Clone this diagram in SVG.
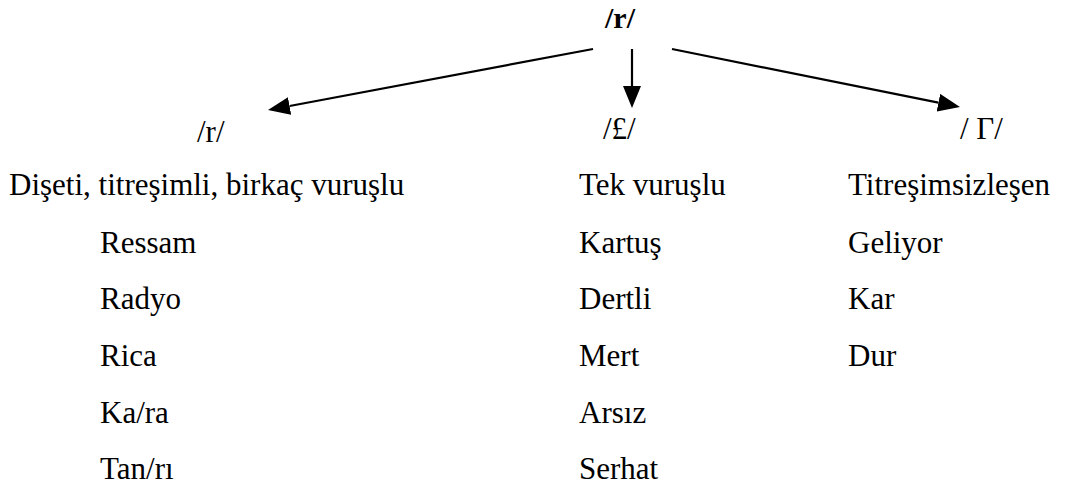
<svg xmlns="http://www.w3.org/2000/svg" width="1085" height="488" viewBox="0 0 1085 488">
<style>
text{font-family:"Liberation Serif","Times New Roman",serif;font-size:31px;fill:#000}
.b{font-weight:bold;font-size:30px}
.c{stroke:#000;stroke-width:2.2;fill:none}
</style>
<defs>
<marker id="ah" viewBox="0 -9 22 18" refX="0" refY="0" markerWidth="22" markerHeight="18" markerUnits="userSpaceOnUse" orient="auto">
<path d="M0,-9 L22,0 L0,9 z" fill="#000"/>
</marker>
</defs>
<rect width="1085" height="488" fill="#fff"/>
<g id="connectors">
<line class="c" x1="593" y1="49" x2="289.6" y2="106" marker-end="url(#ah)"/>
<line class="c" x1="632" y1="49" x2="632" y2="86" marker-end="url(#ah)"/>
<line class="c" x1="672" y1="49" x2="938.4" y2="102.7" marker-end="url(#ah)"/>
</g>
<g id="root"><text class="b" x="605" y="28">/r/</text></g>
<g id="n1">
<text x="197" y="142">/r/</text>
<text x="9" y="195">Dişeti, titreşimli, birkaç vuruşlu</text>
<text x="100" y="253">Ressam</text>
<text x="100" y="309">Radyo</text>
<text x="100" y="366">Rica</text>
<text x="100" y="423">Ka/ra</text>
<text x="100" y="479">Tan/rı</text>
</g>
<g id="n2">
<text x="603" y="139">/£/</text>
<text x="579" y="195">Tek vuruşlu</text>
<text x="579" y="253">Kartuş</text>
<text x="579" y="309">Dertli</text>
<text x="579" y="366">Mert</text>
<text x="579" y="423">Arsız</text>
<text x="579" y="479">Serhat</text>
</g>
<g id="n3">
<text x="960" y="139">/ Γ/</text>
<text x="848" y="195">Titreşimsizleşen</text>
<text x="848" y="253">Geliyor</text>
<text x="848" y="309">Kar</text>
<text x="848" y="366">Dur</text>
</g>
</svg>
